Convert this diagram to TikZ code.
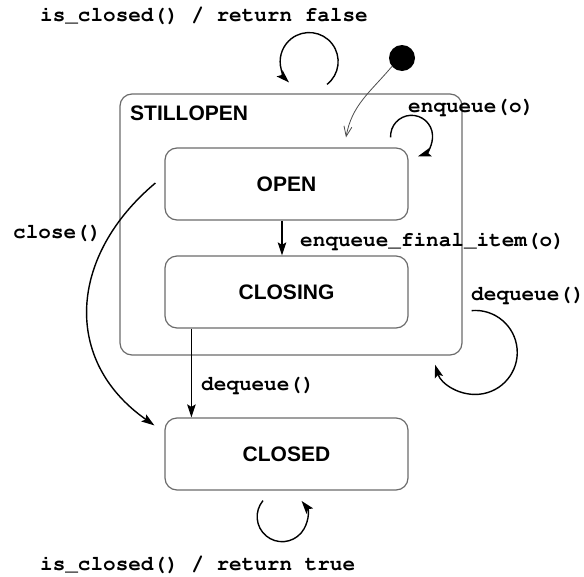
\documentclass[tikz,border=0pt]{standalone}
\usepackage{fontspec}
\newfontfamily\statefont{Liberation Sans}
\newcommand{\mycode}{\fontencoding{T1}\fontfamily{pcr}\fontseries{b}\selectfont}
\usetikzlibrary{arrows.meta}
\tikzset{
  x=1pt, y=1pt,
  statebox/.style={draw=black!58, line width=1.2pt, rounded corners=12pt, inner sep=0pt},
  conn/.style={draw=black, line width=1.4pt, -{Stealth[length=13pt,width=8.5pt,inset=2.5pt]}},
  codelbl/.style={font=\mycode\fontsize{21}{25}\selectfont, inner sep=0pt, anchor=west},
  statelbl/.style={font=\statefont\bfseries\fontsize{21}{25}\selectfont, inner sep=0pt},
}
\begin{document}
\begin{tikzpicture}
\useasboundingbox (0,0) rectangle (584,-576);
% states
\node[statebox, minimum width=342pt, minimum height=261pt] (stillopen) at (291,-224.5) {};
\node[statelbl, anchor=west] (stillopenlbl) at (130,-113) {STILLOPEN};
\node[statebox, minimum width=243pt, minimum height=72pt, statelbl, draw=black!58, line width=1.2pt, rounded corners=12pt] (open) at (286.5,-184) {OPEN};
\node[statebox, minimum width=243pt, minimum height=72pt, statelbl, draw=black!58, line width=1.2pt, rounded corners=12pt] (closing) at (286.5,-292) {CLOSING};
\node[statebox, minimum width=243pt, minimum height=72pt, statelbl, draw=black!58, line width=1.2pt, rounded corners=12pt] (closed) at (286.5,-454) {CLOSED};
\node[circle, fill=black, minimum size=26pt, inner sep=0pt] (init) at (402,-58) {};
% labels
\node[codelbl] (l1) at (40,-16) {is\_closed() / return false};
\node[codelbl] (l2) at (408,-107) {enqueue(o)};
\node[codelbl] (l3) at (300,-241) {enqueue\_final\_item(o)};
\node[codelbl] (l4) at (471,-295) {dequeue()};
\node[codelbl] (l5) at (13,-233) {close()};
\node[codelbl] (l6) at (201,-385) {dequeue()};
\node[codelbl] (l7) at (40,-565) {is\_closed() / return true};
% initial transition
\draw[black!70, line width=0.8pt, -{Straight Barb[length=10pt,width=8pt]}]
  (init.220) to[out=230,in=80] ([shift={(59.5pt,10pt)}]open.north);
% transitions
\draw[conn] ([xshift=-4.5pt]open.south) -- ([xshift=-4.5pt]closing.north);
\draw[conn] ([xshift=27pt]closing.south west) -- ([xshift=27pt]closed.north west);
\draw[conn] ([shift={(-9pt,1pt)}]open.west) .. controls +(220:113) and +(145:113) .. ([shift={(-10pt,-8pt)}]closed.north west);
% self loops
\draw[conn] ([shift={(36pt,9pt)}]stillopen.north) arc[start angle=-52, end angle=226, radius=29];
\draw[conn] ([shift={(-18pt,10pt)}]open.north east) arc[start angle=183, end angle=-72, radius=21];
\draw[conn] ([shift={(9pt,45pt)}]stillopen.south east) arc[start angle=95, end angle=-163, radius=42];
\draw[conn] ([shift={(-23.5pt,-10pt)}]closed.south) arc[start angle=140, end angle=399, radius=25];
\end{tikzpicture}
\end{document}
